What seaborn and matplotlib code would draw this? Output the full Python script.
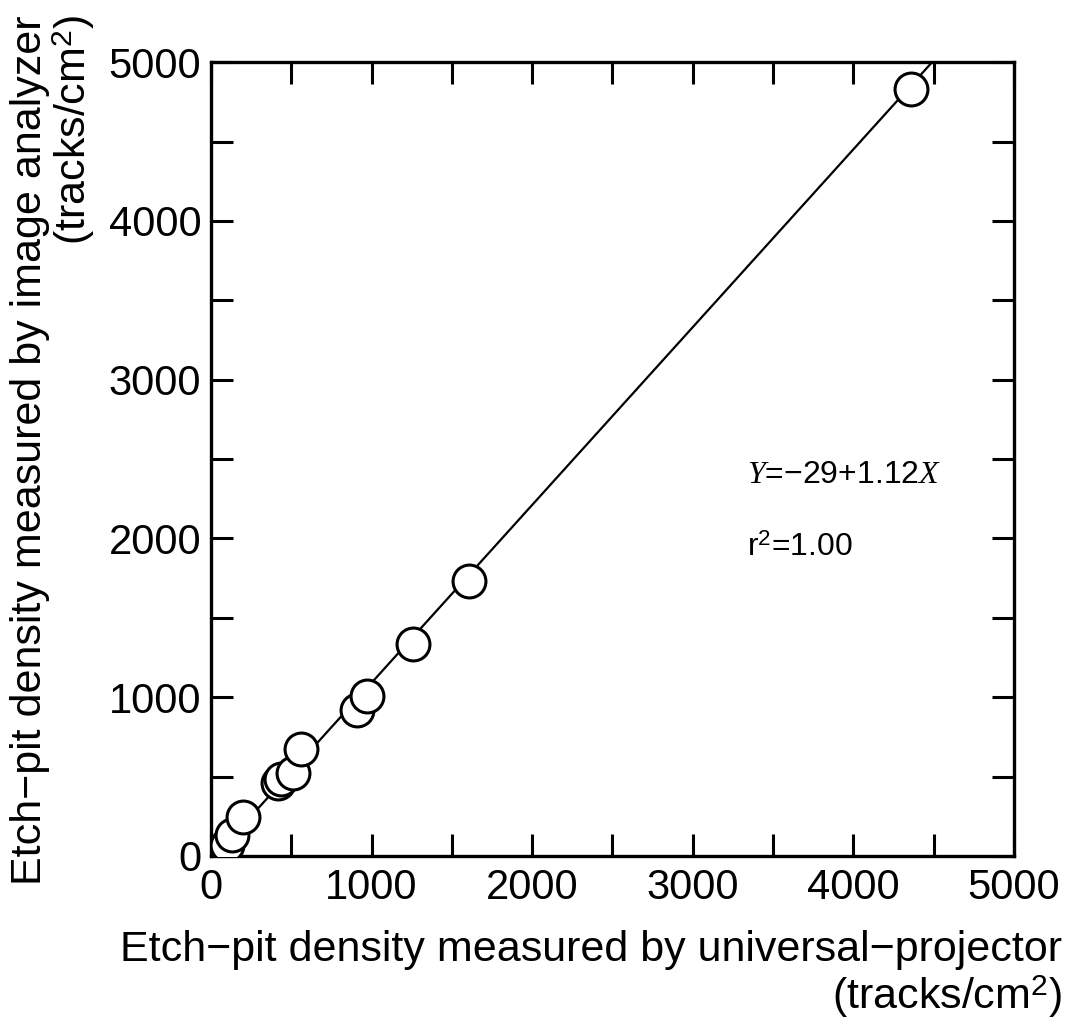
import matplotlib
matplotlib.use("Agg")
import matplotlib.pyplot as plt
import numpy as np
import pandas as pd
import seaborn as sns

# Etch-pit densities (tracks/cm^2)
projector = [100, 131, 200, 418, 437, 512, 562, 911, 974, 1255, 1604, 4357]
analyzer = [69, 132, 245, 459, 484, 521, 672, 917, 1005, 1338, 1734, 4830]

# Regression Y = a + bX
intercept = -29
slope = 1.12
r_squared = 1.00

axis_max = 5000
major_ticks = [0, 1000, 2000, 3000, 4000, 5000]
minor_ticks = [500, 1500, 2500, 3500, 4500]

sns.set_theme(style="ticks")
plt.rcParams["font.family"] = ["Liberation Sans", "DejaVu Sans"]
plt.rcParams["mathtext.fontset"] = "custom"
plt.rcParams["mathtext.rm"] = "Liberation Sans"
plt.rcParams["mathtext.it"] = "Liberation Serif:italic"

fig = plt.figure(figsize=(10.73, 10.26), dpi=100)
ax = fig.add_axes([0.1966, 0.1657, 0.7484, 0.7737])

df = pd.DataFrame({"x": projector, "y": analyzer})

# fitted line, from x=0 up to where it meets the top of the frame
x_end = (axis_max - intercept) / slope
fit = pd.DataFrame({"x": [0, x_end]})
fit["y"] = intercept + slope * fit["x"]
sns.lineplot(data=fit, x="x", y="y", ax=ax, color="black", linewidth=1.6, zorder=2)

sns.scatterplot(data=df, x="x", y="y", ax=ax, s=560, marker="o",
                facecolor="white", edgecolor="black", linewidth=2.2, zorder=3)

ax.set_xlim(0, axis_max)
ax.set_ylim(0, axis_max)

ax.set_xticks(major_ticks)
ax.set_yticks(major_ticks)
ax.set_xticks(minor_ticks, minor=True)
ax.set_yticks(minor_ticks, minor=True)
ax.set_xticklabels([str(t) for t in major_ticks])
ax.set_yticklabels([str(t) for t in major_ticks])

for which in ("major", "minor"):
    ax.tick_params(which=which, direction="in", length=16, width=2.2,
                   top=True, right=True, color="black")
ax.tick_params(axis="x", which="major", labelsize=30, pad=9, labelcolor="black")
ax.tick_params(axis="y", which="major", labelsize=30, pad=7, labelcolor="black")

for sp in ax.spines.values():
    sp.set_visible(True)
    sp.set_linewidth(2.4)
    sp.set_color("black")

ax.set_xlabel("Etch\u2212pit density measured by universal\u2212projector\n(tracks/cm$^2$)",
              fontsize=31, ha="right", va="top", multialignment="right",
              color="black", linespacing=1.1)
ax.xaxis.set_label_coords(1.06, -0.093)

ax.set_ylabel("Etch\u2212pit density measured by image analyzer\n(tracks/cm$^2$)",
              fontsize=31, ha="right", va="top", multialignment="right",
              rotation=90, rotation_mode="anchor", color="black", linespacing=1.0)
ax.yaxis.set_label_coords(-0.25, 1.059)

ax.text(0.667, 0.48, "$Y$=\u221229+1.12$X$", transform=ax.transAxes,
        fontsize=23, ha="left", va="center", color="black")
ax.text(0.667, 0.388, f"r$^2$={r_squared:.2f}", transform=ax.transAxes,
        fontsize=23, ha="left", va="center", color="black")

ax.grid(False)
fig.savefig("out.png", dpi=100, facecolor="white")
